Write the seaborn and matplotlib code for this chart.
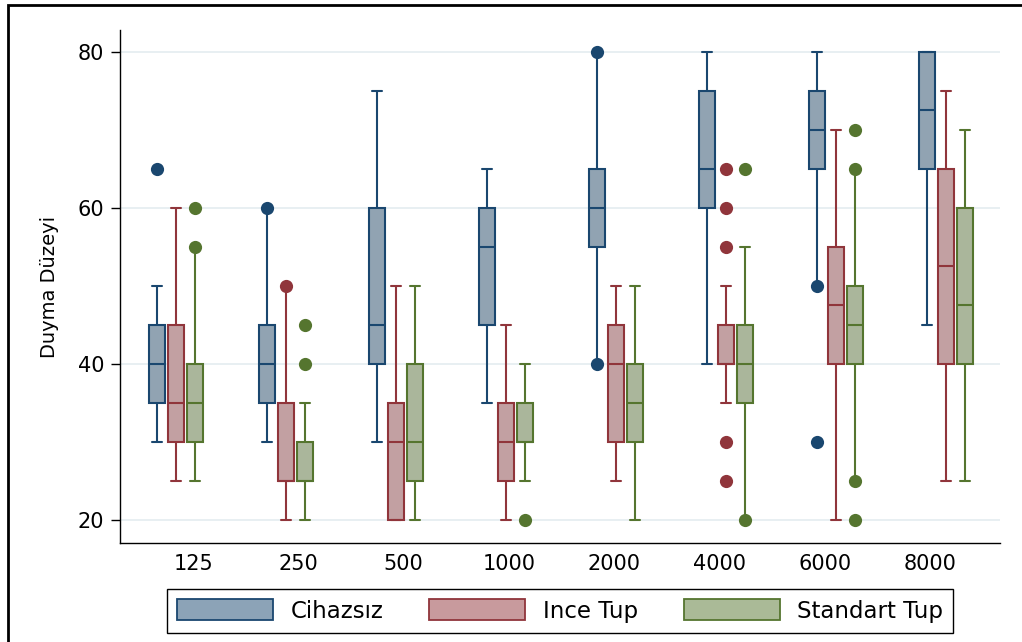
import matplotlib
matplotlib.use("Agg")
import matplotlib.pyplot as plt
from matplotlib.patches import Patch, Rectangle
import numpy as np
import pandas as pd
import seaborn as sns

# ----------------------------
# Data
# ----------------------------
freqs = ["125", "250", "500", "1000", "2000", "4000", "6000", "8000"]
groups = ["Cihazsız", "Ince Tup", "Standart Tup"]

# lower whisker, q1, median, q3, upper whisker per frequency
cihazsiz_box = [[30, 35, 40, 45, 50], [30, 35, 40, 45, 60], [30, 40, 45, 60, 75],
                [35, 45, 55, 60, 65], [40, 55, 60, 65, 80], [40, 60, 65, 75, 80],
                [50, 65, 70, 75, 80], [45, 65, 72.5, 80, 80]]
ince_box = [[25, 30, 35, 45, 60], [20, 25, 25, 35, 50], [20, 20, 30, 35, 50],
            [20, 25, 30, 35, 45], [25, 30, 40, 45, 50], [35, 40, 40, 45, 50],
            [20, 40, 47.5, 55, 70], [25, 40, 52.5, 65, 75]]
standart_box = [[25, 30, 35, 40, 55], [20, 25, 25, 30, 35], [20, 25, 30, 40, 50],
                [25, 30, 30, 35, 40], [20, 30, 35, 40, 50], [20, 35, 40, 45, 55],
                [25, 40, 45, 50, 65], [25, 40, 47.5, 60, 70]]

# outside values (Stata also marks points sitting right on the fence)
cihazsiz_out = [[65], [60], [], [], [40, 80], [], [30, 50], []]
ince_out = [[], [50], [], [], [], [25, 30, 55, 60, 65], [], []]
standart_out = [[55, 60], [40, 45], [], [20], [], [20, 65], [20, 25, 65, 70], []]

fill_colors = ["#8ca3b7", "#c89a9d", "#aaba97"]
edge_colors = ["#1a476f", "#90353b", "#55752f"]

rows = []
for grp, boxes in zip(groups, [cihazsiz_box, ince_box, standart_box]):
    for f, stats in zip(freqs, boxes):
        for v in stats:
            rows.append((f, grp, v))
box_df = pd.DataFrame(rows, columns=["freq", "group", "level"])

rows = []
for grp, outs in zip(groups, [cihazsiz_out, ince_out, standart_out]):
    for f, vals in zip(freqs, outs):
        for k, v in enumerate(vals):
            rows.append((f, grp, v, k))
out_df = pd.DataFrame(rows, columns=["freq", "group", "level", "rank"])

# ----------------------------
# Plot
# ----------------------------
sns.set_theme(style="white")
plt.rcParams["font.family"] = ["DejaVu Sans"]
plt.rcParams["text.color"] = "black"

fig = plt.figure(figsize=(10.22, 6.42), dpi=100)
ax = fig.add_axes([120 / 1022, 1 - 543 / 642, 880 / 1022, 513 / 642])

box_width = 0.52
for grp, edge in zip(groups, edge_colors):
    sns.boxplot(data=box_df[box_df["group"] == grp], x="freq", y="level",
                hue="group", order=freqs, hue_order=groups, palette=fill_colors,
                linecolor=edge, width=box_width, gap=0.185, dodge=True,
                whis=(0, 100), showfliers=False, linewidth=1.5,
                capwidths=0.085, legend=False, ax=ax)

for k, sub in out_df.groupby("rank"):
    sns.pointplot(data=sub, x="freq", y="level", hue="group", order=freqs,
                  hue_order=groups, palette=edge_colors, dodge=2 * box_width / 3,
                  linestyle="none", marker="o", markersize=9.5,
                  markeredgewidth=0, errorbar=None, legend=False, ax=ax)

ax.set_xlim(-0.51, 7.49)
ax.set_ylim(17.05, 82.82)
ax.set_yticks([20, 40, 60, 80])
# Stata spaces the category labels slightly tighter than the boxes
ax.set_xticks(np.linspace(0.155, 6.855, len(freqs)), freqs)

ax.yaxis.grid(True, color="#e6eef1", linewidth=1.3)
ax.xaxis.grid(False)
ax.set_axisbelow(True)

for side in ["top", "right"]:
    ax.spines[side].set_visible(False)
for side in ["left", "bottom"]:
    ax.spines[side].set_color("black")
    ax.spines[side].set_linewidth(1.0)

ax.tick_params(axis="y", length=6.5, width=1.0, pad=5, labelsize=15,
               colors="black", left=True)
ax.tick_params(axis="x", length=0, pad=8, labelsize=15, colors="black")
ax.set_xlabel("")
ax.set_ylabel("Duyma Düzeyi", fontsize=14, labelpad=13, color="black")

handles = [Patch(facecolor=fc, edgecolor=ec, linewidth=1.3)
           for fc, ec in zip(fill_colors, edge_colors)]
leg = fig.legend(handles, groups, loc="center",
                 bbox_to_anchor=(560 / 1022, 1 - 611 / 642), ncol=3, fontsize=16.5,
                 frameon=True, fancybox=False, edgecolor="black", framealpha=1,
                 handlelength=4.2, handleheight=1.0, handletextpad=0.75,
                 columnspacing=2.0, borderpad=0.45, labelcolor="black")
leg.get_frame().set_linewidth(1.0)

# outer frame of the graph region
fig.add_artist(Rectangle((7.5 / 1022, -0.1), 1.2, 1.1 - 5.5 / 642, fill=False,
                         edgecolor="black", linewidth=2, transform=fig.transFigure,
                         clip_on=False))

fig.savefig("out.png", dpi=100)
